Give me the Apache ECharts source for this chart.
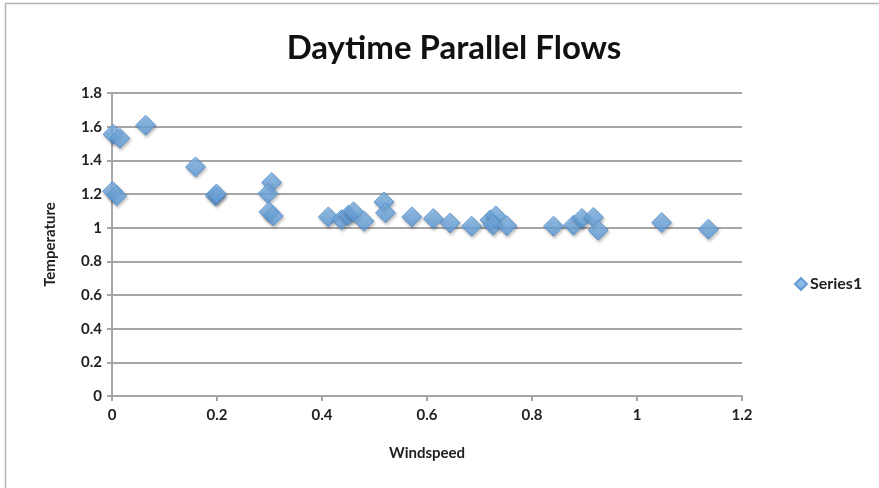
<!DOCTYPE html>
<html>
<head>
<meta charset="utf-8">
<script src="https://cdn.jsdelivr.net/npm/echarts@6/dist/echarts.min.js"></script>
<style>
  html, body { margin: 0; padding: 0; background: #ffffff; }
  #chart { width: 879px; height: 488px; }
</style>
</head>
<body>
<div id="chart"></div>
<script>
// Windspeed vs. temperature observations for daytime parallel flows
const windspeed = [
  0.002, 0.015, 0.064, 0.159, 0.001, 0.009, 0.197, 0.199,
  0.304, 0.297, 0.299, 0.307,
  0.412, 0.437, 0.450, 0.460, 0.480, 0.518, 0.521,
  0.571, 0.612, 0.644, 0.685, 0.720, 0.731, 0.726, 0.752,
  0.841, 0.879, 0.895, 0.917, 0.926, 1.047, 1.136
];
const temperature = [
  1.555, 1.531, 1.608, 1.361, 1.216, 1.190, 1.189, 1.200,
  1.268, 1.203, 1.094, 1.070,
  1.064, 1.048, 1.074, 1.094, 1.039, 1.153, 1.088,
  1.064, 1.054, 1.028, 1.009, 1.045, 1.070, 1.015, 1.011,
  1.009, 1.015, 1.055, 1.061, 0.985, 1.030, 0.991
];
const xTicks = { min: 0, max: 1.2, step: 0.2 };
const yTicks = { min: 0, max: 1.8, step: 0.2 };

const points = windspeed.map((x, i) => [x, temperature[i]]);

const chart = echarts.init(document.getElementById('chart'), null, { renderer: 'canvas' });
const labelFont = 'Lato, "Open Sans", sans-serif';

chart.setOption({
  backgroundColor: '#ffffff',
  animation: false,
  title: {
    text: 'Daytime Parallel Flows',
    left: 449,
    top: 27,
    textAlign: 'center',
    textStyle: { fontFamily: labelFont, fontWeight: 'bold', fontSize: 33, color: '#111' }
  },
  legend: {
    left: 789,
    top: 271,
    itemWidth: 12,
    itemHeight: 12,
    itemGap: 4,
    icon: 'diamond',
    textStyle: { fontFamily: labelFont, fontSize: 16, fontWeight: 'bold', color: '#222', padding: [0, 0, 0, -2] },
    data: ['Series1']
  },
  grid: { left: 112, right: 137, top: 93, bottom: 92 },
  xAxis: {
    type: 'value',
    min: xTicks.min, max: xTicks.max, interval: xTicks.step,
    name: 'Windspeed',
    nameLocation: 'middle',
    nameGap: 50,
    nameTextStyle: { fontFamily: labelFont, fontWeight: 'bold', fontSize: 15, color: '#222' },
    axisLine: { show: true, lineStyle: { color: '#a6a6a6', width: 2 } },
    axisTick: { show: true, length: 5, lineStyle: { color: '#a6a6a6', width: 2 } },
    axisLabel: { fontFamily: labelFont, fontWeight: 'bold', fontSize: 15, color: '#222', margin: 12 },
    splitLine: { show: false }
  },
  yAxis: {
    type: 'value',
    min: yTicks.min, max: yTicks.max, interval: yTicks.step,
    name: 'Temperature',
    nameLocation: 'middle',
    nameGap: 54,
    nameRotate: 90,
    nameTextStyle: { fontFamily: labelFont, fontWeight: 'bold', fontSize: 15, color: '#222' },
    axisLine: { show: true, lineStyle: { color: '#a6a6a6', width: 2 } },
    axisTick: { show: true, length: 5, lineStyle: { color: '#a6a6a6', width: 2 } },
    axisLabel: { fontFamily: labelFont, fontWeight: 'bold', fontSize: 15, color: '#222', margin: 10 },
    splitLine: { show: true, lineStyle: { color: '#a6a6a6', width: 2 } }
  },
  graphic: [{
    type: 'rect',
    shape: { x: 5.5, y: 3.5, width: 900, height: 520 },
    style: { fill: 'none', stroke: '#b4b4b4', lineWidth: 1.5 },
    silent: true,
    z: -1
  }],
  series: [{
    name: 'Series1',
    type: 'scatter',
    symbol: 'diamond',
    symbolSize: 20,
    data: points,
    itemStyle: {
      color: new echarts.graphic.LinearGradient(0, 0, 0, 1, [
        { offset: 0, color: '#86bbec' },
        { offset: 1, color: '#5a98d6' }
      ]),
      borderColor: '#4f8ccb',
      borderWidth: 1,
      shadowColor: 'rgba(0,0,0,0.3)',
      shadowBlur: 3,
      shadowOffsetX: 1,
      shadowOffsetY: 2
    }
  }]
});
</script>
</body>
</html>
